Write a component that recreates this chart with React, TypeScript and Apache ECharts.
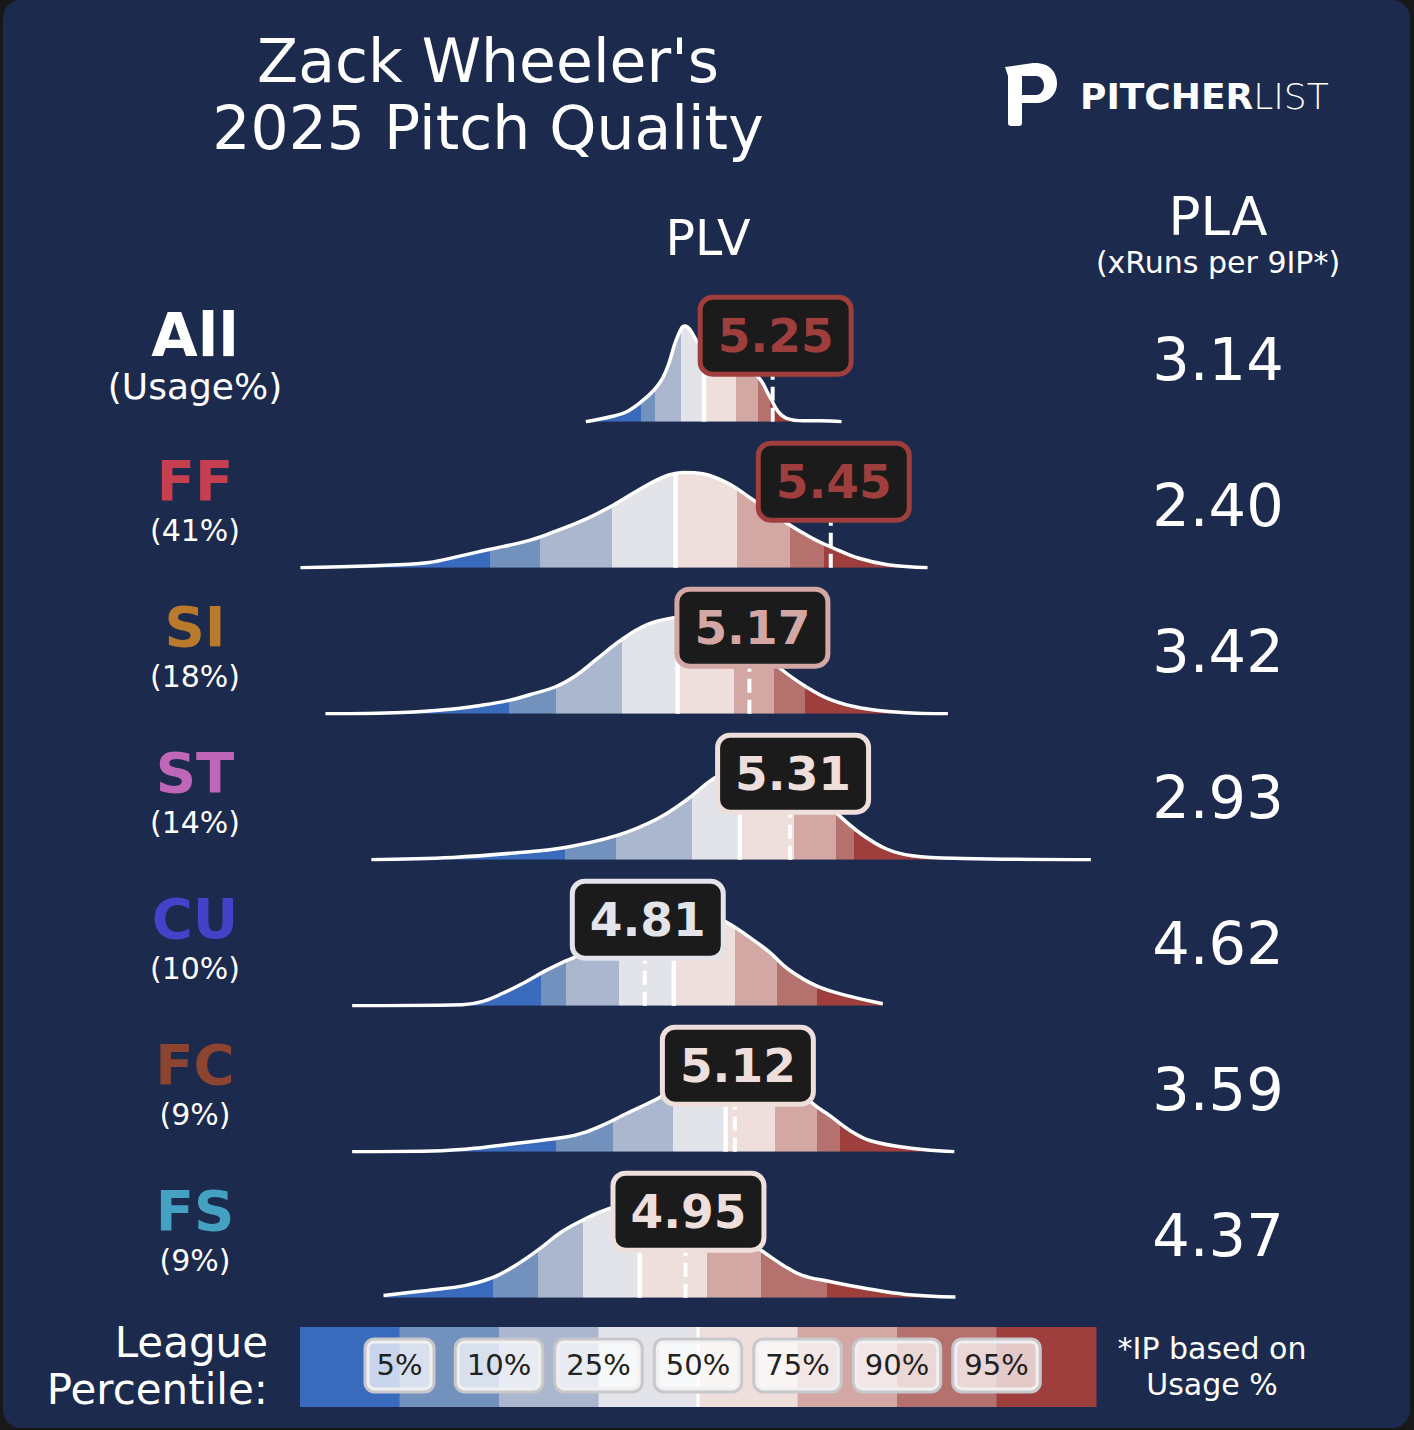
import React, { useEffect, useRef } from "react";
import * as echarts from "echarts";

// ---------- DATA ----------
const pitchNames = ["All", "FF", "SI", "ST", "CU", "FC", "FS"];
const usageLabels = ["(Usage%)", "(41%)", "(18%)", "(14%)", "(10%)", "(9%)", "(9%)"];
const nameColors = ["#ffffff", "#c63f51", "#b97a2b", "#c066b8", "#4343c9", "#8b4530", "#44a1c2"];
const plvValues = [5.25, 5.45, 5.17, 5.31, 4.81, 5.12, 4.95];
const plaValues = [3.14, 2.4, 3.42, 2.93, 4.62, 3.59, 4.37];
const percentileLabels = ["5%", "10%", "25%", "50%", "75%", "90%", "95%"];
const bandColors = ["#3a6abb", "#7391bd", "#abb6cf", "#e3e4ea", "#eedfdd", "#d3a7a4", "#b5716d", "#9e3f3d"];

// density curves (x = PLV, y = relative density)
const allX = [4.607, 4.704, 4.748, 4.798, 4.842, 4.871, 4.893, 4.914, 4.936, 4.948, 4.965, 4.987, 5.017, 5.069, 5.138, 5.197, 5.24, 5.269, 5.298, 5.356, 5.414, 5.487];
const allY = [0, 0.057, 0.1, 0.2, 0.317, 0.434, 0.584, 0.784, 0.934, 0.957, 0.924, 0.817, 0.72, 0.61, 0.53, 0.457, 0.25, 0.1, 0.034, 0.01, 0.01, 0];
const ffX = [3.625, 3.879, 4.067, 4.169, 4.27, 4.4, 4.487, 4.603, 4.704, 4.82, 4.893, 4.943, 5.009, 5.095, 5.182, 5.241, 5.298, 5.385, 5.458, 5.544, 5.646, 5.783];
const ffY = [0, 0.02, 0.053, 0.113, 0.18, 0.263, 0.347, 0.48, 0.63, 0.83, 0.927, 0.953, 0.94, 0.847, 0.68, 0.57, 0.447, 0.297, 0.197, 0.097, 0.03, 0];
const siX = [3.711, 3.975, 4.15, 4.238, 4.343, 4.414, 4.501, 4.572, 4.642, 4.73, 4.818, 4.905, 4.958, 5.028, 5.116, 5.203, 5.274, 5.361, 5.449, 5.554, 5.695, 5.853];
const siY = [0, 0.013, 0.047, 0.08, 0.133, 0.19, 0.267, 0.38, 0.54, 0.74, 0.89, 0.957, 0.967, 0.94, 0.83, 0.64, 0.457, 0.277, 0.14, 0.057, 0.013, 0];
const stX = [3.869, 4.15, 4.361, 4.536, 4.712, 4.852, 4.958, 5.028, 5.063, 5.138, 5.224, 5.31, 5.385, 5.467, 5.555, 5.642, 5.73, 5.906, 6.345];
const stY = [0, 0.023, 0.067, 0.123, 0.24, 0.407, 0.607, 0.773, 0.84, 0.94, 0.97, 0.88, 0.7, 0.473, 0.257, 0.107, 0.04, 0.013, 0];
const cuX = [3.803, 4.182, 4.253, 4.323, 4.393, 4.464, 4.534, 4.569, 4.656, 4.742, 4.828, 4.914, 5.0, 5.096, 5.166, 5.236, 5.306, 5.405, 5.517, 5.629];
const cuY = [0, 0.01, 0.043, 0.127, 0.227, 0.343, 0.443, 0.487, 0.66, 0.8, 0.9, 0.96, 0.96, 0.827, 0.693, 0.543, 0.36, 0.193, 0.093, 0.02];
const fcX = [3.803, 4.112, 4.253, 4.393, 4.534, 4.604, 4.674, 4.744, 4.829, 4.871, 4.966, 5.052, 5.138, 5.224, 5.31, 5.397, 5.447, 5.517, 5.587, 5.727, 5.875];
const fcY = [0, 0.01, 0.043, 0.093, 0.144, 0.194, 0.277, 0.377, 0.494, 0.56, 0.75, 0.92, 0.97, 0.88, 0.68, 0.46, 0.36, 0.21, 0.11, 0.034, 0];
const fsX = [3.911, 4.062, 4.194, 4.286, 4.365, 4.444, 4.523, 4.599, 4.655, 4.707, 4.794, 4.88, 4.966, 5.052, 5.138, 5.227, 5.287, 5.352, 5.438, 5.576, 5.708, 5.879];
const fsY = [0.023, 0.073, 0.123, 0.2, 0.323, 0.48, 0.657, 0.78, 0.857, 0.907, 0.95, 0.96, 0.9, 0.78, 0.62, 0.44, 0.323, 0.223, 0.167, 0.09, 0.033, 0.007];

// league percentile boundaries (5,10,25,50,75,90,95)
const allPct = [4.797, 4.845, 4.935, 5.014, 5.124, 5.2, 5.241];
const ffPct = [4.277, 4.448, 4.697, 4.916, 5.127, 5.31, 5.426];
const siPct = [4.343, 4.504, 4.73, 4.923, 5.116, 5.253, 5.361];
const stPct = [4.536, 4.712, 4.972, 5.137, 5.323, 5.467, 5.529];
const cuPct = [4.454, 4.538, 4.721, 4.91, 5.121, 5.264, 5.402];
const fcPct = [4.503, 4.7, 4.906, 5.088, 5.257, 5.402, 5.482];
const fsPct = [4.286, 4.444, 4.599, 4.793, 5.023, 5.21, 5.438];

const curveX = [allX, ffX, siX, stX, cuX, fcX, fsX];
const curveY = [allY, ffY, siY, stY, cuY, fcY, fsY];
const pctList = [allPct, ffPct, siPct, stPct, cuPct, fcPct, fsPct];

// ---------- LAYOUT ----------
const FONT = "'DejaVu Sans', 'Noto Sans', sans-serif";
const BASE0 = 421.7;
const STEP = 146;
const GRID_H = 100;
const X_MIN = 3.6;
const X_MAX = 6.4;
const PLOT_LEFT = 293.16;
const PLOT_W = 813.68;
const BOX_Y = 0.86;

const LOGO_D =
  "M0,5 L28,1 C43,0 52,9 52,21 C52,33 43,41 31,41 L17,41 L17,61 Q17,64 14,64 L6,64 Q3,64 3,61 L3,14 Z " +
  "M17,14 L17,33 L31,33 C36,33 39,28 39,23.5 C39,19 36,14 31,14 Z";
echarts.graphic.registerShape("plLogo", echarts.graphic.extendPath(LOGO_D, {}) as any);

function interp(xs: number[], ys: number[], x: number) {
  for (let k = 0; k < xs.length - 1; k++) {
    if (x >= xs[k] && x <= xs[k + 1]) {
      const t = (x - xs[k]) / (xs[k + 1] - xs[k]);
      return ys[k] + t * (ys[k + 1] - ys[k]);
    }
  }
  return 0;
}

function bandColorFor(pct: number[], v: number) {
  let k = 0;
  while (k < pct.length && v >= pct[k]) k++;
  return bandColors[k];
}

function vlineRender(params: any, api: any) {
  const x = api.value(0);
  const top = api.value(1);
  const dashed = api.value(2);
  const w = api.value(3);
  const p0 = api.coord([x, 0]);
  const p1 = api.coord([x, top]);
  return {
    type: "line",
    shape: { x1: p0[0], y1: p0[1], x2: p1[0], y2: p1[1] },
    style: { stroke: "#ffffff", lineWidth: w, lineDash: dashed ? [14, 7] : null, lineCap: "butt" },
  };
}

function buildOption() {
  const grids: any[] = [];
  const xAxes: any[] = [];
  const yAxes: any[] = [];
  const series: any[] = [];
  const visualMaps: any[] = [];
  const graphics: any[] = [];

  graphics.push({
    type: "rect",
    z: -10,
    silent: true,
    shape: { x: 3, y: 0, width: 1407, height: 1428, r: 18 },
    style: { fill: "#1c2a4d" },
  });
  graphics.push({
    type: "text",
    x: 488,
    y: 94,
    style: {
      text: "Zack Wheeler's\n2025 Pitch Quality",
      fill: "#ffffff",
      fontSize: 60,
      fontFamily: FONT,
      lineHeight: 67,
      textAlign: "center",
      textVerticalAlign: "middle",
    },
  });
  graphics.push({ type: "plLogo", x: 1005, y: 62, scaleX: 1, scaleY: 1, style: { fill: "#ffffff" } });
  graphics.push({
    type: "text",
    x: 1080,
    y: 96,
    style: {
      text: "{b|PITCHER}{l|LIST}",
      textVerticalAlign: "middle",
      rich: {
        b: { fontSize: 36, fontWeight: "bold", fontFamily: FONT, fill: "#ffffff" },
        l: { fontSize: 36, fontWeight: 200, fontFamily: FONT, fill: "#ffffff" },
      },
    },
  });
  graphics.push({
    type: "text",
    x: 708,
    y: 238,
    style: { text: "PLV", fill: "#fff", fontSize: 49, fontFamily: FONT, textAlign: "center", textVerticalAlign: "middle" },
  });
  graphics.push({
    type: "text",
    x: 1218,
    y: 216,
    style: { text: "PLA", fill: "#fff", fontSize: 53, fontFamily: FONT, textAlign: "center", textVerticalAlign: "middle" },
  });
  graphics.push({
    type: "text",
    x: 1218,
    y: 262,
    style: { text: "(xRuns per 9IP*)", fill: "#fff", fontSize: 30, fontFamily: FONT, textAlign: "center", textVerticalAlign: "middle" },
  });

  for (let i = 0; i < pitchNames.length; i++) {
    const base = BASE0 + STEP * i;
    grids.push({ left: PLOT_LEFT, width: PLOT_W, top: base - GRID_H, height: GRID_H, containLabel: false });
    xAxes.push({ type: "value", gridIndex: i, min: X_MIN, max: X_MAX, show: false });
    yAxes.push({ type: "value", gridIndex: i, min: 0, max: 1, show: false });

    const xs = curveX[i];
    const ys = curveY[i];
    const pct = pctList[i];
    const pts = xs.map((x, k) => [x, ys[k]]);
    const areaIdx = series.length;

    series.push({
      type: "line",
      xAxisIndex: i,
      yAxisIndex: i,
      data: pts,
      smooth: 0.4,
      symbol: "none",
      silent: true,
      lineStyle: { width: 0, opacity: 0 },
      areaStyle: { opacity: 1 },
      z: 2,
    });
    const med = pct[3];
    series.push({
      type: "custom",
      xAxisIndex: i,
      yAxisIndex: i,
      silent: true,
      z: 3,
      renderItem: vlineRender,
      data: [
        [med, interp(xs, ys, med), 0, 4.5],
        [plvValues[i], BOX_Y, 1, 4],
      ],
    });
    series.push({
      type: "line",
      xAxisIndex: i,
      yAxisIndex: i,
      data: pts,
      smooth: 0.4,
      symbol: "none",
      silent: true,
      lineStyle: { color: "#ffffff", width: 3.5 },
      z: 4,
    });
    const bc = bandColorFor(pct, plvValues[i]);
    series.push({
      type: "scatter",
      xAxisIndex: i,
      yAxisIndex: i,
      silent: true,
      symbol: "rect",
      symbolSize: 1,
      itemStyle: { color: "rgba(0,0,0,0)", opacity: 1 },
      z: 6,
      data: [[plvValues[i], BOX_Y]],
      label: {
        show: true,
        position: "inside",
        offset: [3, 0],
        formatter: () => plvValues[i].toFixed(2),
        color: bc,
        opacity: 1,
        fontSize: 47,
        fontWeight: "bold",
        fontFamily: FONT,
        lineHeight: 54,
        backgroundColor: "#1b1b1b",
        borderColor: bc,
        borderWidth: 5,
        borderRadius: 10,
        padding: [10, 15, 8, 15],
      },
    });

    const pieces: any[] = [];
    for (let k = 0; k <= pct.length; k++) {
      const p: any = { color: bandColors[k] };
      if (k > 0) p.gte = pct[k - 1];
      if (k < pct.length) p.lt = pct[k];
      pieces.push(p);
    }
    visualMaps.push({ type: "piecewise", show: false, dimension: 0, seriesIndex: areaIdx, pieces });

    // left labels
    graphics.push({
      type: "text",
      x: 195,
      y: base - 87,
      style: {
        text: pitchNames[i],
        fill: nameColors[i],
        fontSize: i === 0 ? 60 : 56,
        fontWeight: "bold",
        fontFamily: FONT,
        textAlign: "center",
        textVerticalAlign: "middle",
      },
    });
    graphics.push({
      type: "text",
      x: 195,
      y: base - (i === 0 ? 35 : 37),
      style: {
        text: usageLabels[i],
        fill: "#ffffff",
        fontSize: i === 0 ? 36 : 30,
        fontFamily: FONT,
        textAlign: "center",
        textVerticalAlign: "middle",
      },
    });
    graphics.push({
      type: "text",
      x: 1218,
      y: base - 62,
      style: {
        text: plaValues[i].toFixed(2),
        fill: "#ffffff",
        fontSize: 59,
        fontFamily: FONT,
        textAlign: "center",
        textVerticalAlign: "middle",
      },
    });
  }

  // legend colour bar
  const li = pitchNames.length;
  grids.push({ left: 300, width: 796, top: 1327, height: 80, containLabel: false });
  xAxes.push({ type: "value", gridIndex: li, min: 0, max: bandColors.length, show: false });
  yAxes.push({ type: "value", gridIndex: li, min: 0, max: 1, show: false });
  series.push({
    type: "custom",
    xAxisIndex: li,
    yAxisIndex: li,
    silent: true,
    z: 2,
    data: bandColors.map((_, k) => [k, 1]),
    renderItem: (params: any, api: any) => {
      const k = api.value(0);
      const p0 = api.coord([k, 0]);
      const p1 = api.coord([k + 1, api.value(1)]);
      return {
        type: "rect",
        shape: { x: p0[0], y: p1[1], width: p1[0] - p0[0] + 0.5, height: p0[1] - p1[1] },
        style: { fill: bandColors[k] },
      };
    },
  });
  series.push({
    type: "custom",
    xAxisIndex: li,
    yAxisIndex: li,
    silent: true,
    z: 3,
    renderItem: vlineRender,
    data: [[4, 1, 0, 3]],
  });
  series.push({
    type: "scatter",
    xAxisIndex: li,
    yAxisIndex: li,
    silent: true,
    symbol: "rect",
    symbolSize: 1,
    itemStyle: { color: "rgba(0,0,0,0)", opacity: 1 },
    z: 5,
    data: percentileLabels.map((l, k) => ({ value: [k + 1, 0.52], name: l })),
    label: {
      show: true,
      position: "inside",
      formatter: "{b}",
      color: "#222222",
      opacity: 1,
      fontSize: 29,
      fontFamily: FONT,
      lineHeight: 34,
      backgroundColor: "rgba(255,255,255,0.72)",
      borderColor: "#c8c8cc",
      borderWidth: 3,
      borderRadius: 8,
      padding: [8, 10, 8, 10],
    },
  });

  graphics.push({
    type: "text",
    x: 268,
    y: 1366,
    style: {
      text: "League\nPercentile:",
      fill: "#ffffff",
      fontSize: 42,
      fontFamily: FONT,
      lineHeight: 47,
      textAlign: "right",
      textVerticalAlign: "middle",
    },
  });
  graphics.push({
    type: "text",
    x: 1212,
    y: 1366,
    style: {
      text: "*IP based on\nUsage %",
      fill: "#ffffff",
      fontSize: 30,
      fontFamily: FONT,
      lineHeight: 36,
      textAlign: "center",
      textVerticalAlign: "middle",
    },
  });

  return {
    animation: false,
    backgroundColor: "#181818",
    grid: grids,
    xAxis: xAxes,
    yAxis: yAxes,
    visualMap: visualMaps,
    series,
    graphic: { elements: graphics },
  };
}

export default function App() {
  const ref = useRef<HTMLDivElement>(null);
  useEffect(() => {
    if (!ref.current) return;
    const chart = echarts.init(ref.current, undefined, { renderer: "svg" });
    chart.setOption(buildOption() as any);
    return () => chart.dispose();
  }, []);
  return <div ref={ref} style={{ position: "fixed", left: 0, top: 0, width: 1414, height: 1430 }} />;
}
